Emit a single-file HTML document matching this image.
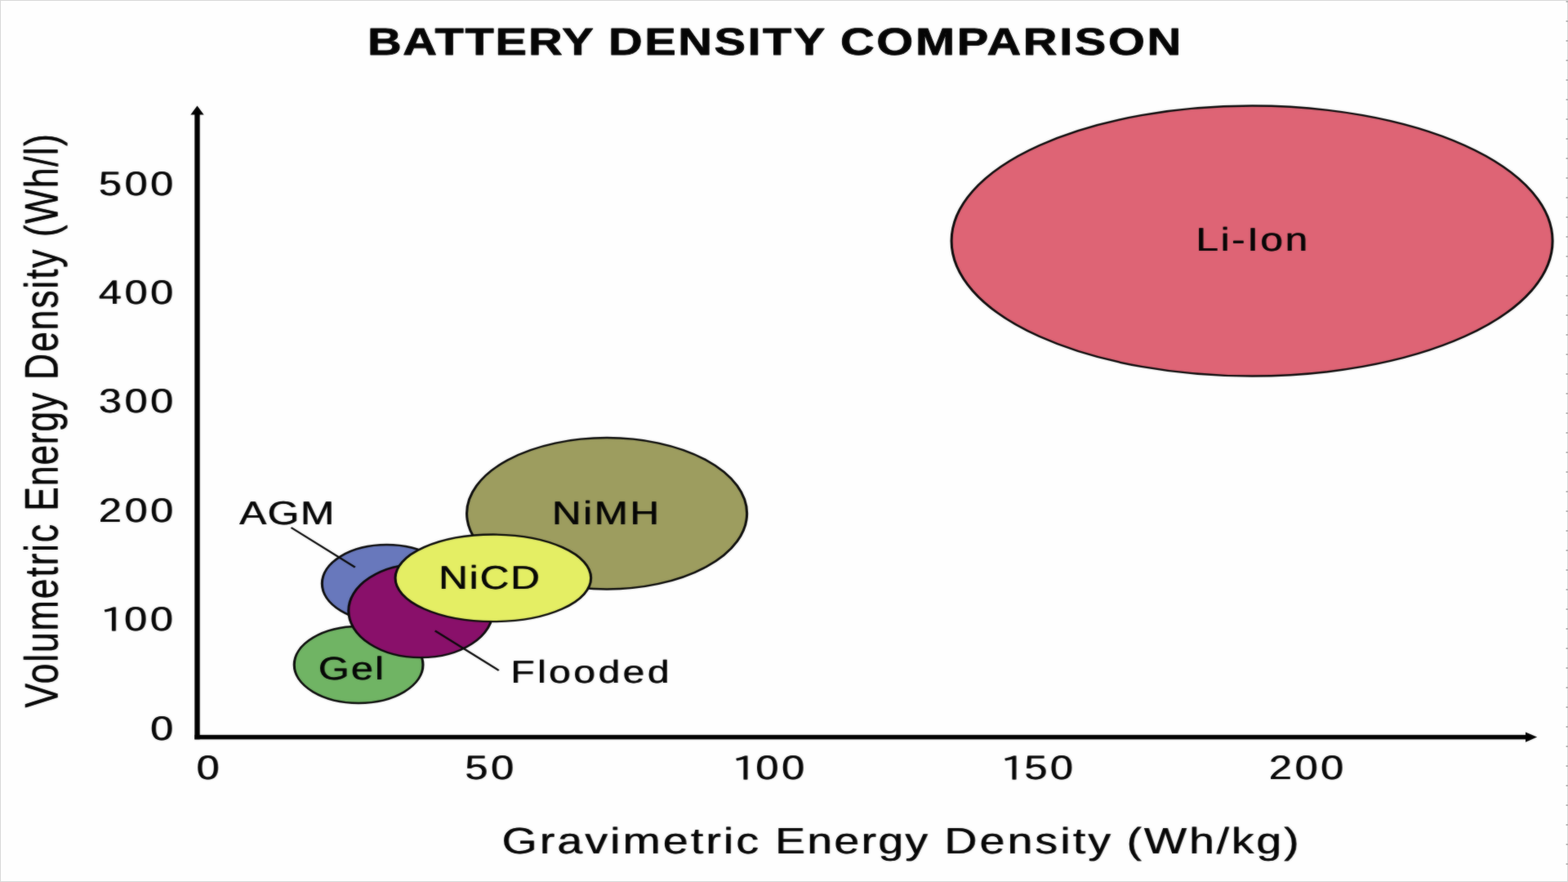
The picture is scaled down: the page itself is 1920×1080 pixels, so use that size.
<!DOCTYPE html>
<html lang="en">
<head>
<meta charset="utf-8">
<title>Battery Density Comparison</title>
<style>
html, body { margin: 0; padding: 0; width: 1920px; height: 1080px; overflow: hidden; background: #fefefe; }
svg { display: block; position: absolute; left: 0; top: 0; }
text { font-family: "Liberation Sans", Arial, Helvetica, sans-serif; fill: #050505; text-rendering: geometricPrecision; }
.shapes ellipse { stroke: #0a0a0a; stroke-width: 2.4; }
.lead line { stroke: #0a0a0a; stroke-width: 2.2; }
</style>
</head>
<body>
<svg width="1920" height="1080" viewBox="0 0 1920 1080">
<rect x="0" y="0" width="1920" height="1080" fill="#fefefe"/>
<defs>
<filter id="soft" filterUnits="userSpaceOnUse" x="0" y="0" width="1920" height="1080" color-interpolation-filters="sRGB">
<feGaussianBlur in="SourceGraphic" stdDeviation="0.8" result="b"/>
<feComposite in="SourceGraphic" in2="b" operator="arithmetic" k1="0" k2="0.6" k3="0.40" k4="0"/>
</filter>
<filter id="thick" filterUnits="userSpaceOnUse" x="0" y="0" width="1920" height="1080" color-interpolation-filters="sRGB">
<feOffset in="SourceGraphic" dx="1" dy="0"/>
<feComponentTransfer result="o"><feFuncA type="linear" slope="0.75"/></feComponentTransfer>
<feMerge><feMergeNode in="o"/><feMergeNode in="SourceGraphic"/></feMerge>
</filter>
</defs>
<rect x="0.5" y="0.5" width="1919" height="1079" fill="none" stroke="#d9d9d9" stroke-width="1"/>
<line x1="1918.8" y1="0" x2="1918.8" y2="1080" stroke="#b8b8b8" stroke-width="2.4" stroke-dasharray="2 22" stroke-dashoffset="-1"/>
<g filter="url(#soft)">
<g class="title">
<text transform="translate(0 67.00) scale(1.2400 1)" y="0" font-size="46.60" font-weight="700" stroke="#050505" stroke-width="0.8" stroke-linejoin="round"><tspan x="362.82" letter-spacing="1.41">BATTERY</tspan> <tspan x="600.72" letter-spacing="2.03">DENSITY</tspan> <tspan x="829.83" letter-spacing="2.11">COMPARISON</tspan></text>
</g>
<g class="axes" fill="#000" stroke="none">
<rect x="238.30" y="140" width="6.4" height="765.35"/>
<rect x="238.30" y="899.85" width="1630.20" height="5.5"/>
<polygon points="241.5,129.4 249.7,140.5 233.3,140.5"/>
<polygon points="1882.2,902.6 1868.0,896.4 1868.0,908.8"/>
</g>
<g class="yticks" filter="url(#thick)">
<text transform="translate(0 239.00) scale(1.2200 1)" x="98.81" y="0" font-size="41.40" letter-spacing="2.90">500</text>
<text transform="translate(0 372.00) scale(1.2200 1)" x="98.81" y="0" font-size="41.40" letter-spacing="2.90">400</text>
<text transform="translate(0 505.40) scale(1.2200 1)" x="98.81" y="0" font-size="41.40" letter-spacing="2.90">300</text>
<text transform="translate(0 639.00) scale(1.2200 1)" x="98.81" y="0" font-size="41.40" letter-spacing="2.90">200</text>
<text transform="translate(0 772.00) scale(1.2200 1)" y="0" font-size="41.40" letter-spacing="2.90"><tspan x="100.50" dy="1.0" font-family='"IPAPGothic", "IPAGothic", "Liberation Sans", sans-serif' font-size="39.8">1</tspan><tspan x="124.41" dy="-1.0">00</tspan></text>
<text transform="translate(0 906.00) scale(1.2200 1)" x="150.67" y="0" font-size="41.40" letter-spacing="2.90">0</text>
</g>
<g class="xticks" filter="url(#thick)">
<text transform="translate(0 954.00) scale(1.2200 1)" x="196.98" y="0" font-size="41.40" letter-spacing="2.90">0</text>
<text transform="translate(0 954.00) scale(1.2200 1)" x="466.43" y="0" font-size="41.40" letter-spacing="2.90">50</text>
<text transform="translate(0 954.00) scale(1.2200 1)" y="0" font-size="41.40" letter-spacing="2.90"><tspan x="734.47" dy="1.0" font-family='"IPAPGothic", "IPAGothic", "Liberation Sans", sans-serif' font-size="39.8">1</tspan><tspan x="758.22" dy="-1.0">00</tspan></text>
<text transform="translate(0 954.00) scale(1.2200 1)" y="0" font-size="41.40" letter-spacing="2.90"><tspan x="1004.18" dy="1.0" font-family='"IPAPGothic", "IPAGothic", "Liberation Sans", sans-serif' font-size="39.8">1</tspan><tspan x="1027.85" dy="-1.0">50</tspan></text>
<text transform="translate(0 954.00) scale(1.2200 1)" x="1273.44" y="0" font-size="41.40" letter-spacing="2.90">200</text>
</g>
<g class="axis-titles" filter="url(#thick)">
<text transform="translate(70.12 0) rotate(-90) scale(1 1.2700)" y="0" font-size="45.00"><tspan x="-866.73" letter-spacing="1.65">Volumetric</tspan> <tspan x="-625.91" letter-spacing="0.52">Energy</tspan> <tspan x="-465.21" letter-spacing="1.61">Density</tspan> <tspan x="-290.21" letter-spacing="1.22">(Wh/l)</tspan></text>
<text transform="translate(0 1045.00) scale(1.2300 1)" y="0" font-size="45.00"><tspan x="499.46" letter-spacing="2.56">Gravimetric</tspan> <tspan x="771.25" letter-spacing="1.91">Energy</tspan> <tspan x="939.95" letter-spacing="2.56">Density</tspan> <tspan x="1121.42" letter-spacing="2.32">(Wh/kg)</tspan></text>
</g>
<g class="shapes" transform="scale(1.28 1)">
<ellipse cx="1197.73" cy="295.05" rx="287.50" ry="165.5" fill="#de6475"/>
<ellipse cx="580.55" cy="628.75" rx="134.02" ry="92.7" fill="#9d9d5f"/>
<ellipse cx="343.05" cy="814" rx="61.60" ry="46.95" fill="#70b464"/>
<ellipse cx="369.92" cy="714.5" rx="61.84" ry="47.45" fill="#6878bc"/>
<ellipse cx="402.50" cy="747.8" rx="69.10" ry="57.35" fill="#89106a"/>
<ellipse cx="471.76" cy="707.85" rx="93.59" ry="53.3" fill="#e4ee64"/>
</g>
<g class="lead" transform="scale(1.28 1)">
<line x1="278.52" y1="646" x2="339.69" y2="694.6"/>
<line x1="416.17" y1="772.3" x2="477.19" y2="821"/>
</g>
<g class="labels" filter="url(#thick)">
<text transform="translate(0 306.90) scale(1.2300 1)" x="1190.33" y="0" font-size="40.30" letter-spacing="2.05">Li-Ion</text>
<text transform="translate(0 641.50) scale(1.2300 1)" x="549.11" y="0" font-size="40.30" letter-spacing="2.01">NiMH</text>
<text transform="translate(0 721.10) scale(1.2300 1)" x="436.35" y="0" font-size="40.30" letter-spacing="1.50">NiCD</text>
<text transform="translate(0 832.00) scale(1.2300 1)" x="316.64" y="0" font-size="39.60" letter-spacing="1.75">Gel</text>
<text transform="translate(0 641.50) scale(1.2300 1)" x="237.95" y="0" font-size="40.50" letter-spacing="1.19">AGM</text>
<text transform="translate(0 836.40) scale(1.2300 1)" x="508.08" y="0" font-size="39.00" letter-spacing="2.82">Flooded</text>
</g>
</g>
</svg>
</body>
</html>
